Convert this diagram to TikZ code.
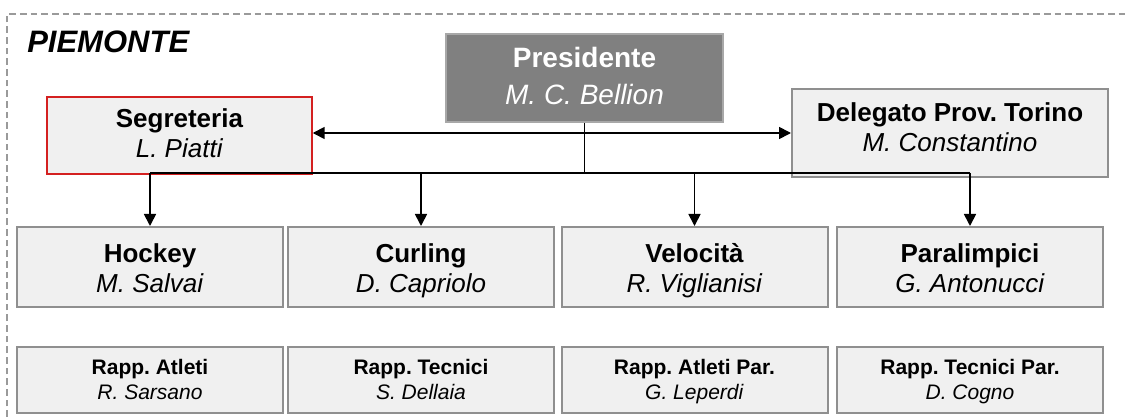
\documentclass[tikz,border=0pt]{standalone}
\usepackage{fontspec}
\setmainfont{Liberation Sans}
\usetikzlibrary{arrows.meta}
\frenchspacing

\definecolor{boxfill}{HTML}{F0F0F0}
\definecolor{boxline}{HTML}{8F8F8F}
\definecolor{presfill}{HTML}{808080}
\definecolor{presline}{HTML}{A8A8A8}
\definecolor{segline}{HTML}{D42020}
\definecolor{frameline}{HTML}{9A9A9A}

\newcommand{\midfont}{\fontsize{19.5}{22.5}\selectfont}
\newcommand{\smallfont}{\fontsize{15.75}{18.75}\selectfont}
% role in bold, name in italics; #1/#2 fix the height of the block
\newcommand{\twoline}[4]{\rule{0pt}{#1}\textbf{#3}\\\textit{#4}\rule[-#2]{0pt}{#2}}

\begin{document}
\begin{tikzpicture}[x=0.75pt, y=-0.75pt,
	box/.style={draw=boxline, line width=1.5pt, fill=boxfill, align=center, inner sep=0pt},
	unit/.style={box, minimum width=199.5pt, minimum height=60pt, font=\midfont},
	rapp/.style={box, minimum width=199.5pt, minimum height=49.5pt, font=\smallfont},
	link/.style={line width=1.3pt},
	arc/.style={link, -{Triangle[length=9pt, width=9pt]}}
]
\useasboundingbox (0,0) rectangle (1128,417);

% FRAME
\draw[frameline, line width=1.1pt, dash pattern=on 5pt off 3pt] (7,417) -- (7,14) -- (1128,14);
\node(title) [anchor=base west, inner sep=0pt, font=\fontsize{23.25}{28}\selectfont\bfseries\itshape] at(27,53) {PIEMONTE};

% NODES
\node(pres) [box, draw=presline, fill=presfill, text=white, minimum width=207.75pt, minimum height=66pt,
	font=\fontsize{21}{27.75}\selectfont] at(584.5, 78) {\twoline{18pt}{5.25pt}{Presidente}{M. C. Bellion}};

\node(seg) [box, draw=segline, line width=1.1pt, minimum width=198.75pt, minimum height=57.75pt, font=\midfont]
	at(179.5, 135.5) {\twoline{15.75pt}{4.5pt}{Segreteria}{L. Piatti}};

\node(del) [box, minimum width=237pt, minimum height=66pt, font=\midfont]
	at(950, 133) {\twoline{15pt}{9pt}{Delegato Prov. Torino}{M. Constantino}};

\foreach \n/\x/\t/\p in{
	hockey/150/Hockey/M. Salvai, curling/421/Curling/D. Capriolo,
	velocita/694.5/Velocità/R. Viglianisi, para/970/Paralimpici/G. Antonucci%
}{
	\node(\n) [unit] at(\x, 267) {\twoline{19.5pt}{4.5pt}{\t}{\p}};
}

\foreach \n/\x/\t/\p in{
	ratleti/150/Rapp. Atleti/R. Sarsano, rtecnici/421/Rapp. Tecnici/S. Dellaia,
	ratletipar/694.5/Rapp. Atleti Par./G. Leperdi, rtecnicipar/970/Rapp. Tecnici Par./D. Cogno%
}{
	\node(\n) [rapp] at(\x, 380) {\twoline{13.5pt}{3.75pt}{\t}{\p}};
}

% ARCS
\coordinate(hub) at(584.5, 133);
\coordinate(bus) at(584.5, 173);

\draw[link] (pres.south) -- (bus);
\draw[arc] (hub) -- (hub -| seg.east);
\draw[arc] (hub) -- (hub -| del.west);
\draw[link] (bus -| hockey.north) -- (bus -| para.north);

\foreach \n in{hockey, curling, velocita, para}{
	\draw[arc] (bus -| \n.north) -- (\n.north);
}

\end{tikzpicture}
\end{document}
